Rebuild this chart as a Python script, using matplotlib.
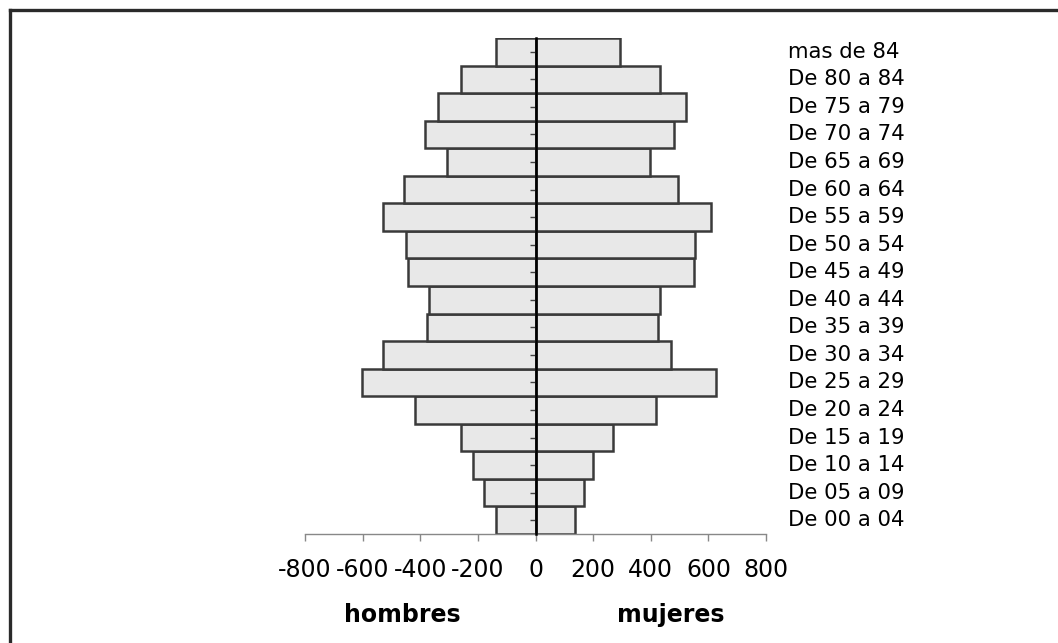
import matplotlib
matplotlib.use('Agg')
import matplotlib.pyplot as plt
from matplotlib.lines import Line2D

# age groups from youngest to oldest
grupos = ['De 00 a 04', 'De 05 a 09', 'De 10 a 14', 'De 15 a 19', 'De 20 a 24',
          'De 25 a 29', 'De 30 a 34', 'De 35 a 39', 'De 40 a 44', 'De 45 a 49',
          'De 50 a 54', 'De 55 a 59', 'De 60 a 64', 'De 65 a 69', 'De 70 a 74',
          'De 75 a 79', 'De 80 a 84', 'mas de 84']
hombres = [138, 178, 218, 257, 417, 603, 529, 377, 369, 442,
           448, 529, 456, 306, 385, 337, 258, 138]
mujeres = [136, 168, 200, 270, 417, 625, 472, 424, 431, 551,
           553, 609, 495, 397, 479, 521, 431, 295]
xticks = [-800, -600, -400, -200, 0, 200, 400, 600, 800]

plt.rcParams['font.family'] = ['DejaVu Sans']
plt.rcParams['axes.unicode_minus'] = False

fig = plt.figure(figsize=(10.58, 6.43), dpi=100)
ax = fig.add_axes([305 / 1058, 109 / 643, 461 / 1058, 496 / 643])

y = range(len(grupos))
ax.barh(y, [-v for v in hombres], height=1.0, color='#e8e8e8', edgecolor='#3a3a3a', linewidth=1.8)
ax.barh(y, mujeres, height=1.0, color='#e8e8e8', edgecolor='#3a3a3a', linewidth=1.8)

ax.set_xlim(-800, 800)
ax.set_ylim(-0.5, len(grupos) - 0.5)

# spines
for s in ['top', 'right']:
    ax.spines[s].set_visible(False)
ax.spines['left'].set_position(('data', 0))
ax.spines['left'].set_color('black')
ax.spines['left'].set_linewidth(1.8)
ax.spines['left'].set_zorder(3)
ax.spines['bottom'].set_color('#888888')
ax.spines['bottom'].set_linewidth(1.0)

ax.set_xticks(xticks)
ax.set_xticklabels([str(t) for t in xticks])
ax.tick_params(axis='x', direction='out', length=5, width=1, color='#888888',
               labelsize=17, pad=12)
ax.set_yticks(list(y))
ax.set_yticklabels([])
ax.tick_params(axis='y', direction='out', length=4, width=1, color='#444444')

# category labels on the right
for i, g in enumerate(grupos):
    ax.text(1.0477, i, g, transform=ax.get_yaxis_transform(), ha='left', va='center',
            fontsize=15.3, color='black')

fig.text(402 / 1058, 1 - 615 / 643, 'hombres', ha='center', va='center',
         fontsize=17, fontweight='bold')
fig.text(671 / 1058, 1 - 615 / 643, 'mujeres', ha='center', va='center',
         fontsize=17, fontweight='bold')

# frame lines (left and top only)
fig.add_artist(Line2D([9.5 / 1058, 9.5 / 1058], [0, 1 - 9.5 / 643], color='#2a2a2a', linewidth=2.4))
fig.add_artist(Line2D([9.5 / 1058, 1], [1 - 9.5 / 643, 1 - 9.5 / 643], color='#2a2a2a', linewidth=2.4))

fig.savefig('out.png', dpi=100)
